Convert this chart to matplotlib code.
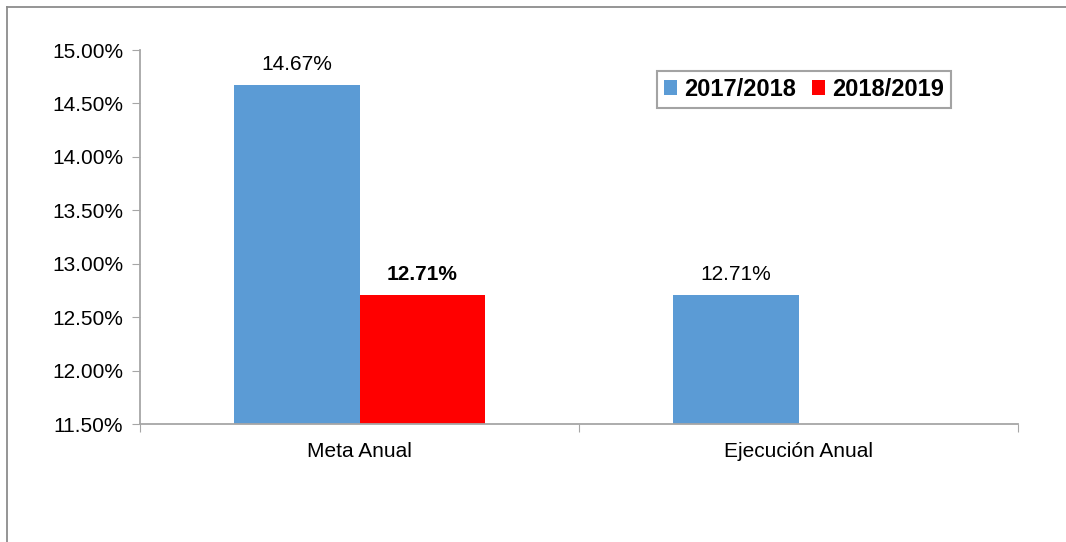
import matplotlib.pyplot as plt
from matplotlib.lines import Line2D
from matplotlib.ticker import FuncFormatter
import numpy as np

plt.rcParams['font.family'] = ['Liberation Sans', 'DejaVu Sans']

# datos
categorias = ['Meta Anual', 'Ejecución Anual']
series = ['2017/2018', '2018/2019']
valores_1718 = [14.67, 12.71]
valores_1819 = [12.71, None]  # sin ejecucion para 2018/2019
colores = ['#5B9BD5', '#FF0000']
etiquetas_negrita = [False, True]
ticks_y = [11.5, 12.0, 12.5, 13.0, 13.5, 14.0, 14.5, 15.0]

fig = plt.figure(figsize=(10.66, 5.42), dpi=100)
ax = fig.add_axes([140 / 1066, 1 - 424 / 542, 878 / 1066, 374 / 542])

# marco exterior (solo se ven la linea de arriba y la izquierda)
borde = '#8c8c8c'
fig.add_artist(Line2D([7 / 1066, 1.0], [1 - 7 / 542, 1 - 7 / 542],
                      transform=fig.transFigure, color=borde, lw=1.3))
fig.add_artist(Line2D([7 / 1066, 7 / 1066], [0.0, 1 - 7 / 542],
                      transform=fig.transFigure, color=borde, lw=1.3))

x = np.arange(len(categorias))
ancho = 0.287
for i, (vals, nombre) in enumerate(zip([valores_1718, valores_1819], series)):
    offset = (i - 0.5) * ancho
    xs = [xi + offset for xi, v in zip(x, vals) if v is not None]
    ys = [v for v in vals if v is not None]
    ax.bar(xs, [v - ticks_y[0] for v in ys], ancho, bottom=ticks_y[0],
           color=colores[i], label=nombre, linewidth=0)
    for xb, v in zip(xs, ys):
        ax.annotate(f'{v:.2f}%', (xb, v), xytext=(0, 8), textcoords='offset points',
                    ha='center', va='bottom', fontsize=15,
                    fontweight='bold' if etiquetas_negrita[i] else 'normal')

ax.set_xlim(-0.5, 1.5)
ax.set_ylim(ticks_y[0], ticks_y[-1])
ax.set_yticks(ticks_y)
ax.yaxis.set_major_formatter(FuncFormatter(lambda v, p: f'{v:.2f}%'))
ax.set_xticks([-0.5, 0.5, 1.5])
ax.set_xticklabels([])
ax.set_xticks(x, minor=True)
ax.set_xticklabels(categorias, minor=True)
ax.tick_params(axis='x', which='minor', length=0, pad=13, labelsize=15)
ax.tick_params(axis='x', which='major', length=6, color='#a6a6a6')
ax.tick_params(axis='y', length=6, color='#a6a6a6', labelsize=15, pad=6)

for lado in ['top', 'right']:
    ax.spines[lado].set_visible(False)
for lado in ['left', 'bottom']:
    ax.spines[lado].set_color('#a6a6a6')
    ax.spines[lado].set_linewidth(1.3)

leg = ax.legend(loc='upper left', bbox_to_anchor=((657 - 152) / 878, 1 - 9 / 374),
                ncol=2, frameon=True, fancybox=False, handlelength=0.55, handleheight=0.55,
                handletextpad=0.3, columnspacing=0.7, borderpad=0.3,
                prop={'weight': 'bold', 'size': 17})
leg.get_frame().set_edgecolor('#8c8c8c')
leg.get_frame().set_linewidth(1.5)

fig.savefig('out.png', dpi=100)
